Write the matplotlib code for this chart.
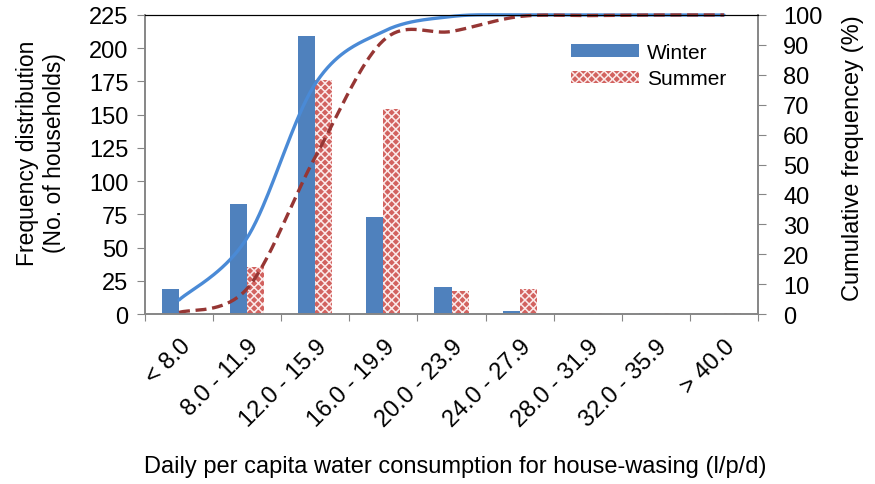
import numpy as np
import matplotlib
matplotlib.use("Agg")
import matplotlib.pyplot as plt
import matplotlib.transforms as mtransforms

plt.rcParams['font.family'] = ['Liberation Sans', 'DejaVu Sans']
plt.rcParams['hatch.linewidth'] = 1.1

categories = ["< 8.0", "8.0 - 11.9", "12.0 - 15.9", "16.0 - 19.9", "20.0 - 23.9",
              "24.0 - 27.9", "28.0 - 31.9", "32.0 - 35.9", "> 40.0"]
winter = [19, 83, 209, 73, 20, 2, 0, 1, 0]
summer = [1, 35, 176, 154, 17, 19, 0.5, 0.5, 0.5]
winter_cum = [4.7, 25.5, 77.0, 94.5, 99.5, 100, 100, 100, 100]
summer_cum = [0.5, 8.5, 52.5, 91.5, 94.5, 99.5, 99.8, 100, 100]
left_ticks = [0, 25, 50, 75, 100, 125, 150, 175, 200, 225]
right_ticks = [0, 10, 20, 30, 40, 50, 60, 70, 80, 90, 100]


def smooth(xs, ys, n=40):
    # Excel-style smoothing: cubic Bezier with Catmull-Rom tangents
    xs = np.asarray(xs, float); ys = np.asarray(ys, float)
    P = np.column_stack([xs, ys])
    out = []
    for i in range(len(P) - 1):
        p0 = P[i - 1] if i > 0 else P[i]
        p1 = P[i]; p2 = P[i + 1]
        p3 = P[i + 2] if i + 2 < len(P) else P[i + 1]
        c1 = p1 + (p2 - p0) / 6.0
        c2 = p2 - (p3 - p1) / 6.0
        t = np.linspace(0, 1, n)[:, None]
        seg = ((1 - t) ** 3) * p1 + 3 * ((1 - t) ** 2) * t * c1 + 3 * (1 - t) * t ** 2 * c2 + t ** 3 * p2
        out.append(seg if i == 0 else seg[1:])
    out = np.vstack(out)
    return out[:, 0], out[:, 1]


W, H = 875, 485
L, R, T, B = 145, 758, 16, 315
fig = plt.figure(figsize=(W / 100, H / 100), dpi=100)
ax = fig.add_axes([L / W, 1 - B / H, (R - L) / W, (B - T) / H])
x = np.arange(len(categories))
bw = 0.25
b1 = ax.bar(x - bw / 2, winter, bw, color='#4f81bd', edgecolor='#4f81bd', linewidth=0, label='Winter')
b2 = ax.bar(x + bw / 2, summer, bw, color='#d2625f', edgecolor='#fbeaea', hatch='xxxx', linewidth=0, label='Summer')

ax.set_xlim(-0.5, len(categories) - 0.5)
ax.set_ylim(0, 225)
ax.set_yticks(left_ticks)
ax.set_xticks(np.arange(len(categories) + 1) - 0.5, minor=False)
ax.set_xticklabels([])
ax.set_xticks(x, minor=True)
ax.set_xticklabels(categories, minor=True, rotation=45, ha='right', va='top',
                   rotation_mode='anchor', fontsize=17)
offset = mtransforms.ScaledTranslation(2 / 100, 0, fig.dpi_scale_trans)
for lab in ax.get_xticklabels(minor=True):
    lab.set_transform(lab.get_transform() + offset)
ax.tick_params(axis='x', which='minor', length=0, pad=15)
ax.tick_params(axis='x', which='major', length=5, color='#868686', direction='out')
ax.tick_params(axis='y', length=6, color='#868686', labelsize=17, direction='out', pad=6)
for s in ['left', 'bottom', 'right']:
    ax.spines[s].set_color('#868686')
    ax.spines[s].set_linewidth(1.2)
ax.spines['top'].set_color('black')
ax.set_ylabel("Frequency distribution\n(No. of households)", fontsize=16.5)
ax.yaxis.set_label_coords((66 - L) / (R - L), (B - 153) / (B - T))

ax2 = ax.twinx()
ax2.set_ylim(0, 100)
ax2.set_yticks(right_ticks)
ax2.tick_params(axis='y', length=6, color='#868686', labelsize=17, direction='out', pad=12)
for s in ['left', 'bottom', 'right']:
    ax2.spines[s].set_color('#868686')
    ax2.spines[s].set_linewidth(1.2)
ax2.spines['top'].set_color('black')
ax2.set_ylabel("Cumulative frequencey (%)", fontsize=17)
ax2.yaxis.set_label_coords((842 - L) / (R - L), (B - 158) / (B - T))

sx, sy = smooth(x, winter_cum)
ax2.plot(sx, sy, color='#4a8ad6', lw=2.4, solid_capstyle='round', clip_on=False)
sx, sy = smooth(x, summer_cum)
ax2.plot(sx, sy, color='#963634', lw=2.4, dashes=(3.3, 1.7), clip_on=False)

ax2.legend(handles=[b1, b2], labels=['Winter', 'Summer'], loc='upper left',
           bbox_to_anchor=((571 - L) / (R - L), (B - 44) / (B - T)), frameon=False, fontsize=15,
           handlelength=3.27, handleheight=0.53, handletextpad=0.38, labelspacing=0.35,
           borderpad=0, borderaxespad=0)

fig.text(455 / W, 1 - 467 / H, "Daily per capita water consumption for house-wasing (l/p/d)",
         ha='center', va='center', fontsize=17)

fig.savefig("out.png", dpi=100)
